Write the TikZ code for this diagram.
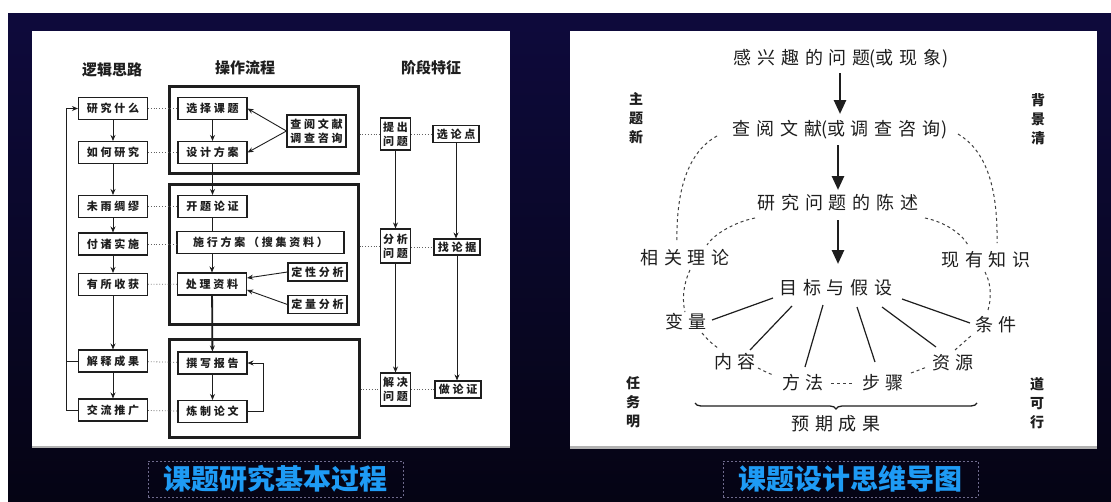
\documentclass[tikz,border=0pt]{standalone}
\usepackage{fontspec}
\setmainfont{Noto Sans CJK SC}
\newfontfamily\spf[LetterSpace=25]{Noto Sans CJK SC}
\newfontfamily\rpf[LetterSpace=32]{Noto Sans CJK SC}
\newfontfamily\nsp{Noto Sans CJK SC}
\newcommand{\lpar}{\kern-1pt{\nsp(}}
\newcommand{\rpar}{\kern1pt{\nsp)}}
\usetikzlibrary{arrows.meta,calc,decorations.pathreplacing}
\definecolor{ink}{HTML}{1E1E1E}
\definecolor{bgtop}{HTML}{0E0A3C}
\definecolor{bgbot}{HTML}{050414}
\definecolor{capblue}{HTML}{1E9BF5}
\definecolor{capframe}{HTML}{6E6A8C}
\begin{document}
\begin{tikzpicture}[x=1pt,y=-1pt,
  lb/.style={draw=ink,line width=1.1pt,minimum width=69pt,minimum height=22pt,inner sep=0pt,text=ink,font=\spf\bfseries\fontsize{11}{13}\selectfont},
  sb/.style={draw=ink,line width=1.1pt,inner sep=0pt,text=ink,align=center,font=\spf\bfseries\fontsize{11}{14}\selectfont},
  hd/.style={text=ink,font=\bfseries\fontsize{15}{17}\selectfont},
  thickframe/.style={draw=ink,line width=3pt,inner sep=0pt},
  arr/.style={draw=ink,line width=0.9pt,-{Stealth[length=6pt,width=5pt]}},
  dotc/.style={draw=ink!70,line width=0.8pt,dotted},
  rt/.style={text=ink,inner sep=0pt,font=\rpf\fontsize{18}{20}\selectfont},
  bigarr/.style={draw=ink,line width=2.6pt,-{Triangle[length=14pt,width=12pt]}},
  dcurve/.style={draw=ink!85,line width=1pt,dash pattern=on 3pt off 3pt},
  sline/.style={draw=ink,line width=1.2pt},
  sidelab/.style={text=ink,align=center,font=\bfseries\fontsize{14}{19}\selectfont},
  capbox/.style={draw=capframe,dash pattern=on 2pt off 2pt,line width=0.8pt,minimum width=255pt,minimum height=36pt,text=capblue,font=\bfseries\fontsize{28}{30}\selectfont}
]
\useasboundingbox (0,0) rectangle (1111,501);
\fill[white] (0,0) rectangle (1111,501);
\shade[top color=bgtop,bottom color=bgbot] (8,13) rectangle (1111,501);
% panels
\fill[black!30] (32,446) rectangle (510,448);
\fill[black!30] (570,446) rectangle (1097,449);
\fill[white] (32,31) rectangle (510,446);
\fill[white] (570,31) rectangle (1097,446);

% ---------- left panel ----------
\node[hd] (h1) at (112,70) {逻辑思路};
\node[hd] (h2) at (245,68) {操作流程};
\node[hd] (h3) at (431,68) {阶段特征};

\node[thickframe,minimum width=189pt,minimum height=87pt] (B1) at (263.5,129.5) {};
\node[thickframe,minimum width=189pt,minimum height=140pt] (B2) at (263.5,254) {};
\node[thickframe,minimum width=190pt,minimum height=98pt] (B3) at (264,388) {};

\node[lb] (l1) at (113,108.5) {研究什么};
\node[lb] (l2) at (113,152.5) {如何研究};
\node[lb] (l3) at (113,206.5) {未雨绸缪};
\node[lb] (l4) at (113,244) {付诸实施};
\node[lb] (l5) at (113,284.5) {有所收获};
\node[lb] (l6) at (113,361) {解释成果};
\node[lb] (l7) at (113,410) {交流推广};

\node[lb] (m1) at (212.5,108.5) {选择课题};
\node[lb] (m2) at (212.5,152.5) {设计方案};
\node[lb] (m3) at (212.5,206.5) {开题论证};
\node[lb,minimum width=167pt] (m4) at (260.5,242.5) {施行方案（搜集资料）};
\node[lb] (m5) at (212,284) {处理资料};
\node[lb] (m6) at (212.5,363) {撰写报告};
\node[lb] (m7) at (212.5,411.5) {炼制论文};

\node[sb,minimum width=59pt,minimum height=32pt] (s1) at (316.5,131) {查阅文献\\调查咨询};
\node[sb,minimum width=59pt,minimum height=18pt] (s2) at (317.5,272) {定性分析};
\node[sb,minimum width=59pt,minimum height=18pt] (s3) at (317.5,304.5) {定量分析};

\node[sb,minimum width=30pt,minimum height=32pt] (r1) at (395.5,134) {提出\\问题};
\node[sb,minimum width=30pt,minimum height=34pt] (r2) at (395.5,246) {分析\\问题};
\node[sb,minimum width=30pt,minimum height=33pt] (r3) at (395.5,389.5) {解决\\问题};
\node[sb,minimum width=46pt,minimum height=17pt] (q1) at (456,134) {选论点};
\node[sb,minimum width=46pt,minimum height=16pt] (q2) at (457,247) {找论据};
\node[sb,minimum width=46pt,minimum height=17pt] (q3) at (458,389.5) {做论证};

% left column flow
\draw[arr] (l1) -- (l2);
\draw[arr] (l2) -- (l3);
\draw[arr] (l3) -- (l4);
\draw[arr] (l4) -- (l5);
\draw[arr] (l5) -- (l6);
\draw[arr] (l6) -- (l7);
\draw[arr] (l7.west) -- ++(-11.5,0) |- (l1.west);
\draw[draw=ink,line width=0.9pt] (l6.west) -- ++(-11.5,0);

% dotted links
\draw[dotc] (l1) -- (m1);
\draw[dotc] (l2) -- (m2);
\draw[dotc] (l3) -- (m3);
\draw[dotc] (l4.east) -- (l4.east -| m4.west);
\draw[dotc] (l5) -- (m5);
\draw[dotc] (l6) -- (m6);
\draw[dotc] (l7) -- (m7);
\draw[dotc] (B1.east |- r1.west) -- (r1.west);
\draw[dotc] (r1.east |- q1.west) -- (q1.west);
\draw[dotc] (B2.east |- r2.west) -- (r2.west);
\draw[dotc] (r2.east |- q2.west) -- (q2.west);
\draw[dotc] (B3.east |- r3.west) -- (r3.west);
\draw[dotc] (r3.east |- q3.west) -- (q3.west);

% middle flow
\draw[arr] (m1) -- (m2);
\draw[arr,line width=1.6pt] (m2) -- (m3);
\draw[draw=ink,line width=1pt] (m3.south) -- (m3.south |- m4.north);
\draw[arr] (m5.north |- m4.south) -- (m5.north);
\draw[arr,line width=1.8pt] (m5) -- (m6);
\draw[arr] (m6) -- (m7);
\draw[arr] (m7.east) -- ++(16,0) |- (m6.east);
\draw[arr] (s1.west) -- (m1.east);
\draw[arr] (s1.west) -- (m2.east);
\draw[arr] (s2.west) -- ([yshift=6pt]m5.east);
\draw[arr] (s3.west) -- ([yshift=-6pt]m5.east);

% right column flow
\draw[arr] (r1) -- (r2);
\draw[arr] (r2) -- (r3);
\draw[arr] (q1.south) -- (q1.south |- q2.north);
\draw[arr] (q2.south) -- (q2.south |- q3.north);

% ---------- right panel ----------
\node[rt] (t1) at (841,59) {感兴趣的问题\lpar 或现象\rpar};
\node[rt] (t2) at (840,130) {查阅文献\lpar 或调查咨询\rpar};
\node[rt] (t3) at (838,203) {研究问题的陈述};
\node[rt] (t4) at (836,288) {目标与假设};
\node[rt] (n1) at (685,258) {相关理论};
\node[rt] (n2) at (986,260) {现有知识};
\node[rt] (v1) at (686,322) {变量};
\node[rt] (v2) at (996,325) {条件};
\node[rt] (v3) at (735,362) {内容};
\node[rt] (v4) at (953,363) {资源};
\node[rt] (v5) at (803,383) {方法};
\node[rt] (v6) at (883,383) {步骤};
\node[rt] (pc) at (836,424) {预期成果};

\node[sidelab] (a1) at (636,118) {主\\题\\新};
\node[sidelab] (a2) at (1038,119) {背\\景\\清};
\node[sidelab] (a3) at (633,402) {任\\务\\明};
\node[sidelab] (a4) at (1037,403) {道\\可\\行};

\draw[bigarr] (t2 |- 0,73) -- (t2 |- 0,114);
\draw[bigarr] (t3 |- 0,145) -- (t3 |- 0,190);
\draw[bigarr] (t3 |- 0,220) -- (t3 |- 0,264);

% solid radiating lines
\draw[sline] ($(t4)+(-63,10)$) -- ($(v1)+(26,-2)$);
\draw[sline] ($(t4)+(-44,18)$) -- ($(v3)+(15,-12)$);
\draw[sline] ($(t4)+(-13,17)$) -- ($(v5)+(2,-16)$);
\draw[sline] ($(t4)+(21,19)$) -- ($(v6)+(-8,-21)$);
\draw[sline] ($(t4)+(46,19)$) -- ($(v4)+(-17,-16)$);
\draw[sline] ($(t4)+(66,11)$) -- ($(v2)+(-26,-2)$);

% dashed curves
\draw[dcurve] ($(t2)+(-123,6)$) .. controls (688,152) and (676,190) .. ($(n1)+(-8,-16)$);
\draw[dcurve] ($(t2)+(118,4)$) .. controls (985,150) and (998,185) .. ($(n2)+(11,-17)$);
\draw[dcurve] ($(t3)+(-83,15)$) .. controls (735,222) and (714,234) .. ($(n1)+(22,-13)$);
\draw[dcurve] ($(t3)+(87,15)$) .. controls (945,222) and (962,234) .. ($(n2)+(-18,-15)$);
\draw[dcurve] ($(n1)+(5,12)$) .. controls (683,285) and (682,300) .. ($(v1)+(-1,-10)$);
\draw[dcurve] ($(v1)+(16,11)$) .. controls (708,340) and (712,344) .. ($(v3)+(-17,-14)$);
\draw[dcurve] ($(v3)+(23,6)$) .. controls (764,371) and (768,373) .. ($(v5)+(-30,-8)$);
\draw[dcurve] ($(v5)+(28,0)$) -- ($(v6)+(-30,0)$);
\draw[dcurve] ($(v6)+(28,-10)$) -- ($(v4)+(-26,4)$);
\draw[dcurve] ($(v4)+(2,-13)$) -- ($(v2)+(-24,10)$);
\draw[dcurve] ($(n2)+(-1,12)$) .. controls (992,285) and (991,300) .. ($(v2)+(-8,-15)$);

% brace
\coordinate (brR) at (977,403);
\coordinate (brL) at (695,403);
\draw[draw=ink,line width=1.3pt,decorate,decoration={brace,amplitude=6pt}] (brR) -- (brL);

% captions
\node[capbox] (c1) at (275.5,479) {课题研究基本过程};
\node[capbox] (c2) at (850.5,479) {课题设计思维导图};
\end{tikzpicture}
\end{document}
